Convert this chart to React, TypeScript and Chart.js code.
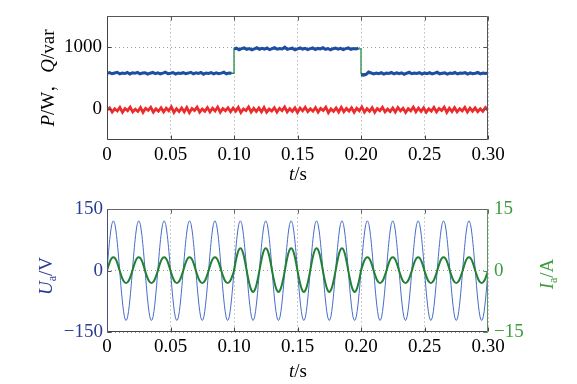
import React, { useEffect, useRef } from "react";
import { Chart, registerables } from "chart.js";
Chart.register(...registerables);

const SERIF = "'Liberation Serif', 'Times New Roman', serif";
const SERIF_CJK = "'Liberation Serif', 'Noto Serif CJK SC', 'Noto Sans CJK SC', serif";

// ---------- shared x axis ----------
const timeTicks = [0, 0.05, 0.1, 0.15, 0.2, 0.25, 0.3];
const timeTickLabels = ["0", "0.05", "0.10", "0.15", "0.20", "0.25", "0.30"];

// ---------- top chart: P and Q ----------
const pqTicks = [0, 1000];
const pqTickLabels = ["0", "1000"];
// P (W) sampled every 2 ms, 0–0.1 s
const pLow1 = [578, 590, 572, 585, 596, 570, 583, 575, 592, 568, 586, 579, 594, 571, 584, 588, 566, 581, 593, 574, 587, 569, 582, 597, 573, 580, 591, 567, 585, 576, 589, 572, 583, 595, 570, 586, 578, 592, 565, 584, 577, 590, 571, 588, 574, 582, 596, 569, 585, 579];
// P (W), 0.1–0.2 s
const pHigh = [972, 985, 961, 978, 990, 966, 980, 958, 975, 992, 968, 983, 970, 988, 962, 977, 995, 969, 981, 973, 1003, 967, 979, 986, 960, 976, 991, 971, 984, 963, 978, 989, 965, 982, 974, 993, 968, 980, 959, 977, 987, 970, 983, 964, 979, 990, 967, 981, 973, 986];
// P (W), 0.2–0.3 s
const pLow2 = [555, 548, 562, 600, 585, 570, 582, 574, 590, 566, 583, 577, 593, 569, 586, 575, 588, 564, 581, 596, 572, 584, 578, 591, 567, 585, 574, 589, 570, 583, 598, 571, 580, 587, 565, 582, 576, 592, 569, 584, 579, 590, 566, 586, 573, 581, 594, 570, 583, 577, 585];
// reference step of P
const pRefTimes = [0, 0.1, 0.1, 0.2, 0.2, 0.3];
const pRefValues = [580, 580, 975, 975, 575, 575];
// Q (var) sampled every 2 ms, 0–0.3 s
const qValues = [-15, 20, -48, 5, -30, 28, -52, 10, -25, 32, -45, 0, -38, 25, -55, 12, -20, 30, -50, 3, -35, 22, -47, 15, -28, 35, -53, 6, -40, 18, -44, 26, -58, 8, -22, 31, -49, 2, -36, 24, -46, 14, -30, 33, -51, 9, -27, 21, -43, 17, -33, 29, -56, 4, -24, 36, -48, 11, -39, 19, -45, 27, -52, 1, -31, 23, -50, 13, -26, 34, -47, 7, -37, 20, -54, 16, -29, 30, -42, 5, -34, 25, -49, 12, -23, 32, -57, 3, -38, 18, -46, 28, -44, 10, -32, 22, -51, 15, -27, 35, -48, 6, -35, 24, -53, 9, -25, 30, -45, 2, -40, 19, -47, 26, -30, 13, -55, 8, -28, 33, -43, 17, -36, 21, -50, 4, -33, 29, -46, 11, -24, 31, -52, 14, -39, 23, -44, 7, -29, 27, -49, 16, -34, 20, -41, 5, -37, 25, -20];

// ---------- bottom chart: Ua and Ia ----------
const uTicks = [-150, 0, 150];
const uTickLabels = ["\u2212150", "0", "150"];
const iTicks = [-15, 0, 15];
const iTickLabels = ["\u221215", "0", "15"];
// Ua (V) sampled every 1.25 ms
const uaValues = [
  0, 47, 86, 113, 122, 113, 86, 47, 0, -47, -86, -113, -122, -113, -86, -47,
  0, 47, 86, 113, 122, 113, 86, 47, 0, -47, -86, -113, -122, -113, -86, -47,
  0, 47, 86, 113, 122, 113, 86, 47, 0, -47, -86, -113, -122, -113, -86, -47,
  0, 47, 86, 113, 122, 113, 86, 47, 0, -47, -86, -113, -122, -113, -86, -47,
  0, 47, 86, 113, 122, 113, 86, 47, 0, -47, -86, -113, -122, -113, -86, -47,
  0, 47, 86, 113, 122, 113, 86, 47, 0, -47, -86, -113, -122, -113, -86, -47,
  0, 47, 86, 113, 122, 113, 86, 47, 0, -47, -86, -113, -122, -113, -86, -47,
  0, 47, 86, 113, 122, 113, 86, 47, 0, -47, -86, -113, -122, -113, -86, -47,
  0, 47, 86, 113, 122, 113, 86, 47, 0, -47, -86, -113, -122, -113, -86, -47,
  0, 47, 86, 113, 122, 113, 86, 47, 0, -47, -86, -113, -122, -113, -86, -47,
  0, 47, 86, 113, 122, 113, 86, 47, 0, -47, -86, -113, -122, -113, -86, -47,
  0, 47, 86, 113, 122, 113, 86, 47, 0, -47, -86, -113, -122, -113, -86, -47,
  0, 47, 86, 113, 122, 113, 86, 47, 0, -47, -86, -113, -122, -113, -86, -47,
  0, 47, 86, 113, 122, 113, 86, 47, 0, -47, -86, -113, -122, -113, -86, -47,
  0, 47, 86, 113, 122, 113, 86, 47, 0, -47, -86, -113, -122, -113, -86, -47,
  0,
];
// Ia (A) sampled every 1.25 ms
const iaValues = [
  0, 1.3, 2.4, 3.1, 3.3, 3.1, 2.4, 1.3, 0, -1.2, -2.2, -2.8, -3.0, -2.8, -2.2, -1.2,
  0, 1.3, 2.4, 3.1, 3.3, 3.1, 2.4, 1.3, 0, -1.2, -2.2, -2.8, -3.0, -2.8, -2.2, -1.2,
  0, 1.3, 2.4, 3.1, 3.3, 3.1, 2.4, 1.3, 0, -1.2, -2.2, -2.8, -3.0, -2.8, -2.2, -1.2,
  0, 1.3, 2.4, 3.1, 3.3, 3.1, 2.4, 1.3, 0, -1.2, -2.2, -2.8, -3.0, -2.8, -2.2, -1.2,
  0, 1.3, 2.4, 3.1, 3.3, 3.1, 2.4, 1.3, 0, -1.2, -2.2, -2.8, -3.0, -2.8, -2.2, -1.2,
  0, 2.1, 3.9, 5.1, 5.5, 5.1, 3.9, 2.1, 0, -2.0, -3.7, -4.8, -5.2, -4.8, -3.7, -2.0,
  0, 2.1, 3.9, 5.1, 5.5, 5.1, 3.9, 2.1, 0, -2.0, -3.7, -4.8, -5.2, -4.8, -3.7, -2.0,
  0, 2.1, 3.9, 5.1, 5.5, 5.1, 3.9, 2.1, 0, -2.0, -3.7, -4.8, -5.2, -4.8, -3.7, -2.0,
  0, 2.1, 3.9, 5.1, 5.5, 5.1, 3.9, 2.1, 0, -2.0, -3.7, -4.8, -5.2, -4.8, -3.7, -2.0,
  0, 2.1, 3.9, 5.1, 5.5, 5.1, 3.9, 2.1, 0, -2.0, -3.7, -4.8, -5.2, -4.8, -3.7, -2.0,
  0, 1.3, 2.4, 3.1, 3.3, 3.1, 2.4, 1.3, 0, -1.2, -2.2, -2.8, -3.0, -2.8, -2.2, -1.2,
  0, 1.3, 2.4, 3.1, 3.3, 3.1, 2.4, 1.3, 0, -1.2, -2.2, -2.8, -3.0, -2.8, -2.2, -1.2,
  0, 1.3, 2.4, 3.1, 3.3, 3.1, 2.4, 1.3, 0, -1.2, -2.2, -2.8, -3.0, -2.8, -2.2, -1.2,
  0, 1.3, 2.4, 3.1, 3.3, 3.1, 2.4, 1.3, 0, -1.2, -2.2, -2.8, -3.0, -2.8, -2.2, -1.2,
  0, 1.3, 2.4, 3.1, 3.3, 3.1, 2.4, 1.3, 0, -1.2, -2.2, -2.8, -3.0, -2.8, -2.2, -1.2,
  0,
];

// ---------- helpers ----------
function segPoints(values: number[], start: number, span: number, inclusive: boolean) {
  const n = values.length;
  const step = span / (inclusive ? n - 1 : n);
  return values.map((v, i) => ({ x: start + i * step, y: v }));
}
function evenPoints(values: number[], span: number) {
  return segPoints(values, 0, span, true);
}
function labelFor(ticks: number[], labels: string[]) {
  return (v: any) => {
    const i = ticks.findIndex((t) => Math.abs(t - Number(v)) < 1e-9);
    return i >= 0 ? labels[i] : "";
  };
}
function setTicks(ticks: number[]) {
  return (scale: any) => {
    scale.ticks = ticks.map((v) => ({ value: v }));
  };
}

type Part = { t: string; italic?: boolean; sub?: boolean };
function drawRich(ctx: CanvasRenderingContext2D, parts: Part[], cx: number, cy: number, color: string, rotate: boolean) {
  ctx.save();
  ctx.translate(cx, cy);
  if (rotate) ctx.rotate(-Math.PI / 2);
  ctx.fillStyle = color;
  ctx.textBaseline = "middle";
  ctx.textAlign = "left";
  const fontFor = (p: Part) => `${p.italic ? "italic " : ""}${p.sub ? 12 : 19}px ${SERIF_CJK}`;
  const widths = parts.map((p) => {
    ctx.font = fontFor(p);
    return ctx.measureText(p.t).width;
  });
  const total = widths.reduce((a, b) => a + b, 0);
  let x = -total / 2;
  parts.forEach((p, i) => {
    ctx.font = fontFor(p);
    ctx.fillText(p.t, x, p.sub ? 6 : 0);
    x += widths[i];
  });
  ctx.restore();
}

type TitleSpec = { parts: Part[]; x: number; y: number; color: string; rotate: boolean };
type FrameSpec = {
  colors: { top: string; bottom: string; left: string; right: string };
  xTicks: number[];
  yTicks: number[];
  yScale: string;
  y2Ticks?: number[];
  y2Scale?: string;
  titles: TitleSpec[];
};

function framePlugin(spec: FrameSpec) {
  return {
    id: "frame",
    afterDraw(chart: any) {
      const ctx: CanvasRenderingContext2D = chart.ctx;
      const a = chart.chartArea;
      const L = Math.round(a.left) + 0.5;
      const R = Math.round(a.right) - 0.5;
      const T = Math.round(a.top) + 0.5;
      const B = Math.round(a.bottom) - 0.5;
      ctx.save();
      ctx.lineWidth = 1;
      const line = (x1: number, y1: number, x2: number, y2: number, c: string) => {
        ctx.strokeStyle = c;
        ctx.beginPath();
        ctx.moveTo(x1, y1);
        ctx.lineTo(x2, y2);
        ctx.stroke();
      };
      const tl = 4;
      const xs = chart.scales.x;
      spec.xTicks.forEach((v) => {
        const px = Math.round(xs.getPixelForValue(v)) + 0.5;
        line(px, B, px, B - tl, spec.colors.bottom);
        line(px, T, px, T + tl, spec.colors.top);
      });
      const ys = chart.scales[spec.yScale];
      spec.yTicks.forEach((v) => {
        const py = Math.round(ys.getPixelForValue(v)) + 0.5;
        line(L, py, L + tl, py, spec.colors.left);
        if (!spec.y2Scale) line(R, py, R - tl, py, spec.colors.right);
      });
      if (spec.y2Scale && spec.y2Ticks) {
        const y2 = chart.scales[spec.y2Scale];
        spec.y2Ticks.forEach((v) => {
          const py = Math.round(y2.getPixelForValue(v)) + 0.5;
          line(R, py, R - tl, py, spec.colors.right);
        });
      }
      line(L, T, R, T, spec.colors.top);
      line(L, B, R, B, spec.colors.bottom);
      line(L, T, L, B, spec.colors.left);
      line(R, T, R, B, spec.colors.right);
      ctx.restore();
      spec.titles.forEach((t) => drawRich(ctx, t.parts, t.x, t.y, t.color, t.rotate));
    },
  };
}

const tickFont = { family: SERIF, size: 19 };
const gridCommon = { color: "#9a9a9a", lineWidth: 1, drawTicks: false };
const borderCommon = { display: false, dash: [1, 3] };

function xScale() {
  return {
    type: "linear",
    min: 0,
    max: 0.3,
    afterBuildTicks: setTicks(timeTicks),
    ticks: { font: tickFont, color: "#000", padding: 4, maxRotation: 0, autoSkip: false, callback: labelFor(timeTicks, timeTickLabels) },
    grid: gridCommon,
    border: borderCommon,
    afterFit: (s: any) => {
      s.height = 52;
    },
  };
}

function TopChart() {
  const ref = useRef<HTMLCanvasElement>(null);
  useEffect(() => {
    const pData = [
      ...segPoints(pLow1, 0, 0.1, false),
      { x: 0.1, y: null },
      ...segPoints(pHigh, 0.1, 0.1, false),
      { x: 0.2, y: null },
      ...segPoints(pLow2, 0.2, 0.1, true),
    ];
    const chart = new Chart(ref.current as HTMLCanvasElement, {
      type: "line",
      data: {
        datasets: [
          { data: pData as any, borderColor: "rgb(30,78,162)", borderWidth: 3, pointRadius: 0, spanGaps: false },
          { data: evenPoints(qValues, 0.3) as any, borderColor: "rgb(236,44,44)", borderWidth: 2.8, pointRadius: 0 },
          { data: pRefTimes.map((t, i) => ({ x: t, y: pRefValues[i] })) as any, borderColor: "rgb(40,140,70)", borderWidth: 1.3, pointRadius: 0 },
        ],
      },
      options: {
        animation: false,
        responsive: false,
        devicePixelRatio: 1,
        parsing: false as any,
        normalized: true,
        layout: { padding: { left: 0, right: 89, top: 15, bottom: 0 } },
        plugins: { legend: { display: false }, tooltip: { enabled: false } },
        scales: {
          x: xScale() as any,
          y: {
            type: "linear",
            min: -500,
            max: 1500,
            afterBuildTicks: setTicks(pqTicks),
            ticks: { font: tickFont, color: "#000", padding: 5, callback: labelFor(pqTicks, pqTickLabels) },
            grid: gridCommon,
            border: borderCommon,
            afterFit: (s: any) => {
              s.width = 107;
            },
          } as any,
        },
      },
      plugins: [
        framePlugin({
          colors: { top: "#555", bottom: "#444", left: "#444", right: "#555" },
          xTicks: timeTicks,
          yTicks: pqTicks,
          yScale: "y",
          titles: [
            { parts: [{ t: "t", italic: true }, { t: "/s" }], x: 298, y: 175, color: "#000", rotate: false },
            {
              parts: [{ t: "P", italic: true }, { t: "/W\uFF0C" }, { t: "Q", italic: true }, { t: "/var" }],
              x: 49,
              y: 78,
              color: "#000",
              rotate: true,
            },
          ],
        }) as any,
      ],
    });
    return () => chart.destroy();
  }, []);
  return <canvas ref={ref} width={577} height={192} style={{ position: "absolute", left: 0, top: 0, display: "block" }} />;
}

function BottomChart() {
  const ref = useRef<HTMLCanvasElement>(null);
  useEffect(() => {
    const blueTick = "#2c3c92";
    const greenTick = "#3c9c3c";
    const chart = new Chart(ref.current as HTMLCanvasElement, {
      type: "line",
      data: {
        datasets: [
          { data: evenPoints(iaValues, 0.3) as any, yAxisID: "y1", borderColor: "rgb(34,128,52)", borderWidth: 2, pointRadius: 0, tension: 0.3 },
          { data: evenPoints(uaValues, 0.3) as any, yAxisID: "y", borderColor: "rgb(70,108,200)", borderWidth: 1, pointRadius: 0, tension: 0.3 },
        ],
      },
      options: {
        animation: false,
        responsive: false,
        devicePixelRatio: 1,
        parsing: false as any,
        layout: { padding: { left: 0, right: 0, top: 17, bottom: 0 } },
        plugins: { legend: { display: false }, tooltip: { enabled: false } },
        scales: {
          x: xScale() as any,
          y: {
            type: "linear",
            position: "left",
            min: -150,
            max: 150,
            afterBuildTicks: setTicks(uTicks),
            ticks: { font: tickFont, color: blueTick, padding: 4, callback: labelFor(uTicks, uTickLabels) },
            grid: gridCommon,
            border: borderCommon,
            afterFit: (s: any) => {
              s.width = 107;
            },
          } as any,
          y1: {
            type: "linear",
            position: "right",
            min: -15,
            max: 15,
            afterBuildTicks: setTicks(iTicks),
            ticks: { font: tickFont, color: greenTick, padding: 6, callback: labelFor(iTicks, iTickLabels) },
            grid: { display: false, drawTicks: false },
            border: { display: false },
            afterFit: (s: any) => {
              s.width = 89;
            },
          } as any,
        },
      },
      plugins: [
        framePlugin({
          colors: { top: "#666", bottom: "#444", left: "#4a5070", right: "#5a9466" },
          xTicks: timeTicks,
          yTicks: uTicks,
          yScale: "y",
          y2Ticks: iTicks,
          y2Scale: "y1",
          titles: [
            { parts: [{ t: "t", italic: true }, { t: "/s" }], x: 298, y: 180, color: "#000", rotate: false },
            { parts: [{ t: "U", italic: true }, { t: "a", sub: true }, { t: "/V" }], x: 47, y: 84, color: blueTick, rotate: true },
            { parts: [{ t: "I", italic: true }, { t: "a", sub: true }, { t: "/A" }], x: 548, y: 82, color: greenTick, rotate: true },
          ],
        }) as any,
      ],
    });
    return () => chart.destroy();
  }, []);
  return <canvas ref={ref} width={577} height={192} style={{ position: "absolute", left: 0, top: 192, display: "block" }} />;
}

export default function App() {
  return (
    <div style={{ position: "absolute", left: 0, top: 0, width: 577, height: 384, background: "#fff", overflow: "hidden" }}>
      <TopChart />
      <BottomChart />
    </div>
  );
}
